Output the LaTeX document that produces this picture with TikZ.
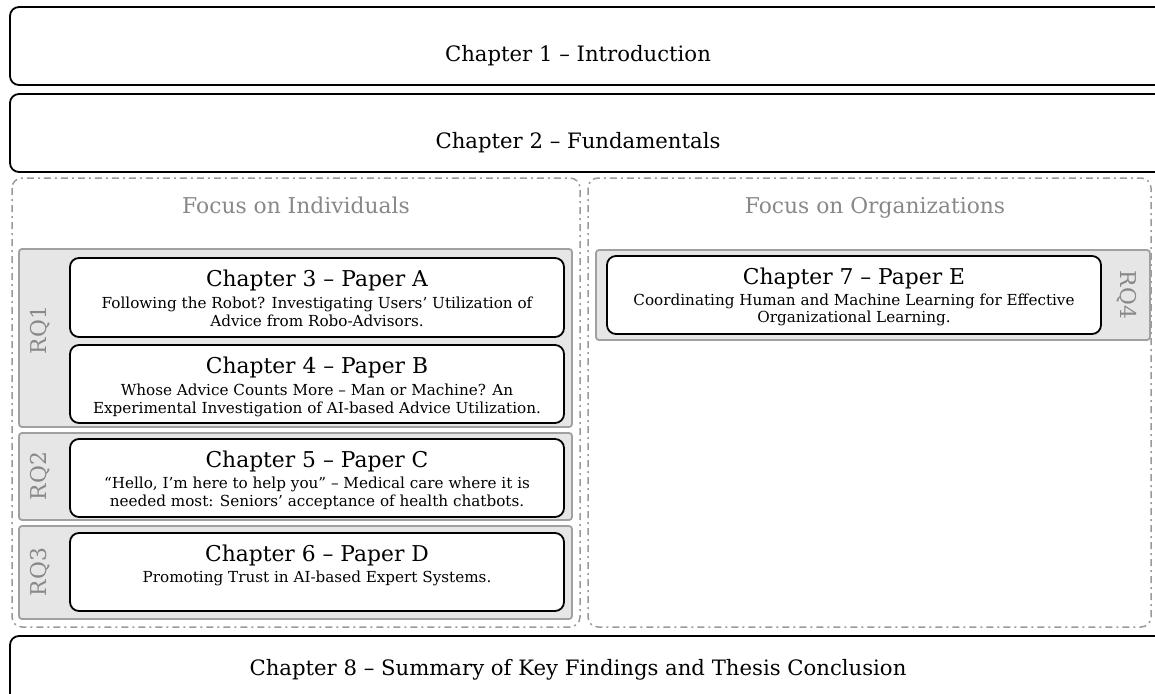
\documentclass[tikz,border=0pt]{standalone}
\usepackage{fontspec}
\setmainfont{DejaVu Serif}
\begin{document}
\begin{tikzpicture}[x=1pt,y=-1pt,
  chbox/.style={draw=black, line width=1.8pt, rounded corners=9pt, fill=white, inner sep=0pt},
  rqbox/.style={draw=rqline, line width=1.8pt, fill=rqfill, rounded corners=3pt, inner sep=0pt},
  focusbox/.style={draw=focusline, line width=1.5pt, rounded corners=10pt, dash pattern=on 7pt off 4pt on 2pt off 4pt},
  bigtitle/.style={font=\fontsize{21.2}{24}\selectfont, inner sep=0pt, anchor=base},
  papertitle/.style={font=\fontsize{21.8}{24}\selectfont, inner sep=0pt, anchor=base},
  papersub/.style={font=\fontsize{15.2}{18}\selectfont, inner sep=0pt, anchor=base},
  graytext/.style={font=\fontsize{21.8}{24}\selectfont, text=labelgray, inner sep=0pt},
]
\definecolor{rqline}{HTML}{A0A0A0}
\definecolor{rqfill}{HTML}{E6E6E6}
\definecolor{focusline}{HTML}{9A9A9A}
\definecolor{labelgray}{HTML}{888888}
\useasboundingbox (0,0) rectangle (1155,693);

% chapter bands across the top and bottom
\draw[chbox] (10,7) rectangle (1175,85);
\node[bigtitle] (ch1) at (578,62) {Chapter 1 – Introduction};
\draw[chbox] (10,94) rectangle (1175,172);
\node[bigtitle] (ch2) at (578,148) {Chapter 2 – Fundamentals};
\draw[chbox] (10,636) rectangle (1175,720);
\node[bigtitle] (ch8) at (578,675) {Chapter 8 – Summary of Key Findings and Thesis Conclusion};

% focus areas
\draw[focusbox] (12,178) rectangle (580,627);
\node[graytext, anchor=base] (indiv) at (296,213) {Focus on Individuals};
\draw[focusbox] (588,178) rectangle (1151,627);
\node[graytext, anchor=base] (orgs) at (875,213) {Focus on Organizations};

% research question groups
\draw[rqbox] (19,249) rectangle (572,427);
\node[graytext, rotate=90] (rq1) at (40,330) {RQ1};
\draw[rqbox] (19,433) rectangle (572,520);
\node[graytext, rotate=90] (rq2) at (40,476) {RQ2};
\draw[rqbox] (19,526) rectangle (572,619);
\node[graytext, rotate=90] (rq3) at (40,572) {RQ3};
\draw[rqbox] (596,250) rectangle (1150,340);
\node[graytext, rotate=-90] (rq4) at (1127,295) {RQ4};

% paper chapters
\draw[chbox] (70,258) rectangle (564,337);
\node[papertitle] (ch3) at (317,286) {Chapter 3 – Paper A};
\node[papersub] (ch3a) at (317,308) {Following the Robot? Investigating Users’ Utilization of};
\node[papersub] (ch3b) at (317,326) {Advice from Robo-Advisors.};

\draw[chbox] (70,345) rectangle (564,423);
\node[papertitle] (ch4) at (317,373) {Chapter 4 – Paper B};
\node[papersub] (ch4a) at (317,395) {Whose Advice Counts More – Man or Machine? An};
\node[papersub] (ch4b) at (317,413) {Experimental Investigation of AI-based Advice Utilization.};

\draw[chbox] (70,439) rectangle (564,517);
\node[papertitle] (ch5) at (317,467) {Chapter 5 – Paper C};
\node[papersub] (ch5a) at (317,488) {“Hello, I'm here to help you” – Medical care where it is};
\node[papersub] (ch5b) at (317,506) {needed most: Seniors’ acceptance of health chatbots.};

\draw[chbox] (70,533) rectangle (564,611);
\node[papertitle] (ch6) at (317,561) {Chapter 6 – Paper D};
\node[papersub] (ch6a) at (317,582) {Promoting Trust in AI-based Expert Systems.};

\draw[chbox] (607,256) rectangle (1101,334);
\node[papertitle] (ch7) at (854,284) {Chapter 7 – Paper E};
\node[papersub] (ch7a) at (854,305) {Coordinating Human and Machine Learning for Effective};
\node[papersub] (ch7b) at (854,322) {Organizational Learning.};
\end{tikzpicture}
\end{document}
